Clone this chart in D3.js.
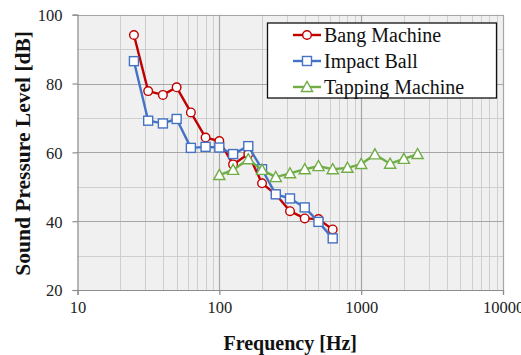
<!DOCTYPE html>
<html>
<head>
<meta charset="utf-8">
<script src="https://cdn.jsdelivr.net/npm/d3@7"></script>
<style>
  html, body { margin: 0; padding: 0; background: #fff; }
  svg { display: block; }
  text { font-family: "Liberation Serif", "Times New Roman", serif; }
</style>
</head>
<body>
<svg id="chart" width="521" height="355"></svg>
<script>
// One-third octave band centre frequencies (Hz)
const freqs = [25, 31.5, 40, 50, 63, 80, 100, 125, 160, 200, 250, 315, 400, 500, 630,
               800, 1000, 1250, 1600, 2000, 2500];

// Sound pressure levels (dB)
const bangFreqs = freqs.slice(0, 15);
const bangMachine = [94.1, 77.8, 76.7, 78.9, 71.6, 64.3, 63.3, 56.5, 59.5, 51.0, 47.8, 42.9, 40.8, 40.6, 37.6];

const ballFreqs = freqs.slice(0, 15);
const impactBall = [86.5, 69.2, 68.4, 69.7, 61.3, 61.6, 61.4, 59.5, 61.8, 55.1, 47.8, 46.6, 44.0, 39.8, 35.0];

const tapFreqs = freqs.slice(6);
const tappingMachine = [53.4, 54.9, 58.0, 54.9, 52.8, 53.9, 55.1, 56.0, 55.1, 55.5, 56.6, 59.4, 56.7, 58.1, 59.5];

const seriesNames = ["Bang Machine", "Impact Ball", "Tapping Machine"];
const xTicks = [10, 100, 1000, 10000];
const yTicks = [20, 40, 60, 80, 100];

const series = [
  { name: seriesNames[0], f: bangFreqs, v: bangMachine, color: "#c00000", marker: "circle" },
  { name: seriesNames[1], f: ballFreqs, v: impactBall, color: "#4472c4", marker: "square" },
  { name: seriesNames[2], f: tapFreqs, v: tappingMachine, color: "#70ad47", marker: "triangle" }
];

const svg = d3.select("#chart");
const plotL = 77.5, plotR = 503, plotT = 14.7, plotB = 290;

const x = d3.scaleLog().domain([10, 10000]).range([plotL, plotR]);
const y = d3.scaleLinear().domain([20, 100]).range([plotB, plotT]);

// plot background
svg.append("rect")
  .attr("x", plotL).attr("y", plotT)
  .attr("width", plotR - plotL).attr("height", plotB - plotT)
  .attr("fill", "#f0f0f0");

// minor vertical grid (2..9 in each decade)
const minorX = [];
for (let d = 10; d < 10000; d *= 10)
  for (let k = 2; k <= 9; k++) minorX.push(d * k);
svg.append("g").selectAll("line").data(minorX).join("line")
  .attr("x1", d => Math.round(x(d)) + 0.5).attr("x2", d => Math.round(x(d)) + 0.5)
  .attr("y1", plotT).attr("y2", plotB)
  .attr("stroke", "#cfcfcf").attr("stroke-width", 1);

// minor horizontal grid
const minorY = [30, 50, 70, 90];
svg.append("g").selectAll("line").data(minorY).join("line")
  .attr("x1", plotL).attr("x2", plotR)
  .attr("y1", d => Math.round(y(d)) + 0.5).attr("y2", d => Math.round(y(d)) + 0.5)
  .attr("stroke", "#cfcfcf").attr("stroke-width", 1);

// major grid
svg.append("g").selectAll("line").data(xTicks.slice(1)).join("line")
  .attr("x1", d => Math.round(x(d)) + 0.5).attr("x2", d => Math.round(x(d)) + 0.5)
  .attr("y1", plotT).attr("y2", plotB)
  .attr("stroke", "#a6a6a6").attr("stroke-width", 1.2);
svg.append("g").selectAll("line").data(yTicks.slice(1)).join("line")
  .attr("x1", plotL).attr("x2", plotR)
  .attr("y1", d => Math.round(y(d)) + 0.5).attr("y2", d => Math.round(y(d)) + 0.5)
  .attr("stroke", "#a6a6a6").attr("stroke-width", 1.2);

// axes
const xAxis = d3.axisBottom(x).tickValues(xTicks).tickFormat(d3.format("d")).tickSize(5).tickPadding(6);
const yAxis = d3.axisLeft(y).tickValues(yTicks).tickSize(5).tickPadding(10);

const gx = svg.append("g").attr("transform", `translate(0,${plotB})`).call(xAxis);
const gy = svg.append("g").attr("transform", `translate(${plotL},0)`).call(yAxis);
[gx, gy].forEach(g => {
  g.select(".domain").attr("stroke", "#8c8c8c").attr("stroke-width", 1.2);
  g.selectAll(".tick line").attr("stroke", "#8c8c8c").attr("stroke-width", 1.2);
  g.selectAll(".tick text")
    .attr("fill", "#222")
    .style("font-family", '"Liberation Serif", serif')
    .style("font-size", "16.5px");
});
gy.selectAll(".tick text").attr("dy", "0.36em");

// axis titles
svg.append("text")
  .attr("x", (plotL + plotR) / 2).attr("y", 350)
  .attr("text-anchor", "middle")
  .style("font-weight", "bold").style("font-size", "20px")
  .attr("fill", "#111")
  .text("Frequency [Hz]");
svg.append("text")
  .attr("transform", `translate(30,${(plotT + plotB) / 2 + 1}) rotate(-90)`)
  .attr("text-anchor", "middle")
  .style("font-weight", "bold").style("font-size", "21.5px")
  .attr("fill", "#111")
  .text("Sound Pressure Level [dB]");

// marker drawing helper
function drawMarker(g, type, color, cx, cy) {
  if (type === "circle") {
    g.append("circle").attr("cx", cx).attr("cy", cy).attr("r", 4.3)
      .attr("fill", "#fff").attr("stroke", color).attr("stroke-width", 1.4);
  } else if (type === "square") {
    g.append("rect").attr("x", cx - 4.5).attr("y", cy - 4.5).attr("width", 9).attr("height", 9)
      .attr("fill", "#fff").attr("stroke", color).attr("stroke-width", 1.4);
  } else {
    const s = 5.6;
    g.append("path")
      .attr("d", `M${cx},${cy - s}L${cx + s},${cy + s * 0.8}L${cx - s},${cy + s * 0.8}Z`)
      .attr("fill", "#fff").attr("stroke", color).attr("stroke-width", 1.4);
  }
}

// series lines and markers
const line = d3.line().x(d => x(d[0])).y(d => y(d[1]));
series.forEach(s => {
  const pts = s.f.map((f, i) => [f, s.v[i]]);
  const g = svg.append("g");
  g.append("path").datum(pts).attr("d", line)
    .attr("fill", "none").attr("stroke", s.color).attr("stroke-width", 2.4)
    .attr("stroke-linejoin", "round");
  pts.forEach(p => drawMarker(g, s.marker, s.color, x(p[0]), y(p[1])));
});

// legend
const lg = svg.append("g");
lg.append("rect").attr("x", 267.5).attr("y", 23).attr("width", 229).attr("height", 75)
  .attr("fill", "#fff").attr("stroke", "#111").attr("stroke-width", 1.3);
series.forEach((s, i) => {
  const cy = 35 + i * 26;
  lg.append("line").attr("x1", 293).attr("x2", 321).attr("y1", cy).attr("y2", cy)
    .attr("stroke", s.color).attr("stroke-width", 2.4);
  drawMarker(lg, s.marker, s.color, 307, cy);
  lg.append("text").attr("x", 324).attr("y", cy + 6.5)
    .style("font-size", "20px").attr("fill", "#111")
    .text(s.name);
});
</script>
</body>
</html>
